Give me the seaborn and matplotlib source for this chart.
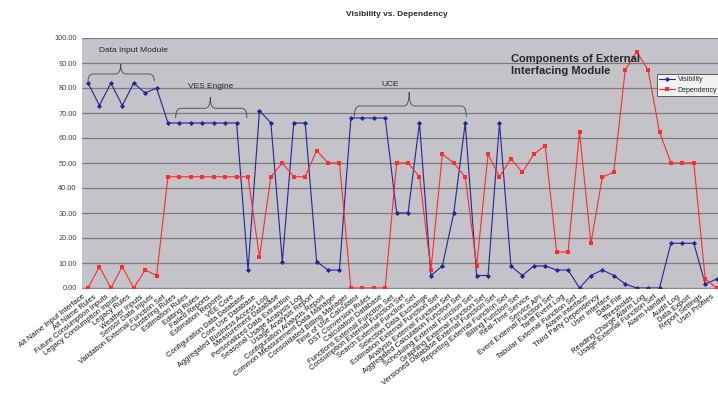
import numpy as np
import pandas as pd
import matplotlib
matplotlib.use("Agg")
import matplotlib.pyplot as plt
from matplotlib.path import Path
from matplotlib.patches import PathPatch
import seaborn as sns

sns.set_style("white")
plt.rcParams['font.family'] = ['Liberation Sans', 'DejaVu Sans']

# --- DATA ---
components = [
    "Alt Name Input Interface", "Alt Name Rules", "Future Consumption Inputs",
    "Legacy Consumption Inputs", "Legacy Rules", "Weather Inputs", "Sensor Data Inputs",
    "Validation External Function Set", "Clustering Rules", "Estimation Rules",
    "Editing Rules", "Failed Reports", "Estimation Reports", "VEE Core",
    "Configuration Data Database", "Core Use Database", "Aggregated Business Access Log",
    "Measurement Database", "Personalized Data Extraction", "Seasonal Usage Analysis Log",
    "Usage Analysis Report", "Configuration Analysis Report",
    "Common Measurement Data Manager", "Consolidated Billing Manager",
    "Time of Use Calculator", "DST Conversion Rules", "Calculation Database",
    "Functions External Function Set", "Consumption External Function Set",
    "Search External Function Set", "Selection Data Exchange",
    "Estimation External Function Set", "Analysis External Function Set",
    "Aggregated Calculation Function Set", "Scheduling External Function Set",
    "Graphing External Function Set", "Versioned Database External Function Set",
    "Reporting External Function Set", "Billing Function Set", "Real-Time Service",
    "Service API", "Event External Function Set", "Tariff Event Log",
    "Tabular External Function Set", "Alarm Interface", "Third Party Dependency",
    "User Interface", "Data File", "Thresholds", "Reading Charge Alarm Log",
    "Usage External Function Set", "Alarm Handler", "Audit Log", "Data Export",
    "Report Settings", "User Profiles",
]

visibility = [82, 73, 82, 73, 82, 78, 80,
              66, 66, 66, 66, 66, 66, 66,
              7.2, 71, 66, 10.5, 66, 66, 10.5, 7.2, 7.2, 68,
              68, 68, 68, 30, 30, 66, 5, 8.8, 30, 66, 5, 5, 66, 8.8, 5, 8.8,
              8.8, 7.2, 7.2, 0, 5, 7.2, 5, 1.6, 0, 0, 0, 17.9, 17.9, 17.9, 1.6, 3.6]

dependency = [0, 8.5, 0, 8.5, 0, 7.2, 5,
              44.5, 44.5, 44.5, 44.5, 44.5, 44.5, 44.5,
              44.5, 12.3, 44.5, 50, 44.5, 44.5, 55, 50, 50, 0,
              0, 0, 0, 50, 50, 44.5, 7.2, 53.5, 50, 44.5, 8.8, 53.5, 44.5, 51.7,
              46.3, 53.5, 56.9, 14.4, 14.4, 62.4, 17.9, 44.4, 46.3, 87.2, 94.5,
              87.2, 62.4, 50, 50, 50, 3.6, 0]

series_names = ["Visibility", "Dependency"]
series_colors = {"Visibility": "#24249a", "Dependency": "#ff2a2a"}

n = len(components)
df = pd.DataFrame({
    "idx": list(range(n)) * 2,
    "value": visibility + dependency,
    "series": ["Visibility"] * n + ["Dependency"] * n,
})

# --- PLOTTING ---
fig = plt.figure(figsize=(7.18, 3.99), dpi=100)
ax = fig.add_axes([82.3 / 718, 1 - 288 / 399, n * 11.43 / 718, 250 / 399])
ax.set_facecolor("#c4c3c8")

sns.lineplot(data=df, x="idx", y="value", hue="series", style="series",
             palette=series_colors, markers={"Visibility": "D", "Dependency": "s"},
             dashes=False, markersize=2.6, markeredgewidth=0, linewidth=0.8,
             legend=False, ax=ax, zorder=3)

ax.set_xlim(-0.5, n - 0.5)
ax.set_ylim(0, 100)
ax.set_yticks(np.arange(0, 101, 10))
ax.set_yticklabels([f"{v:.2f}" for v in range(0, 101, 10)], fontsize=5.3, color="#444444")
ax.yaxis.grid(True, color="#7a7a7a", linewidth=0.9)
ax.set_axisbelow(True)
ax.set_xlabel("")
ax.set_ylabel("")

# category boundaries get the tick marks, names are placed under each point
ax.set_xticks(np.arange(-0.5, n, 1))
ax.set_xticklabels([])
ax.tick_params(axis="x", length=2.5, width=0.6, color="#333333", direction="out")
ax.tick_params(axis="y", length=0, pad=4)
for i, name in enumerate(components):
    ax.annotate(name, xy=(i, 0), xycoords=("data", "axes fraction"),
                xytext=(-4, -4), textcoords="offset points",
                rotation=38, ha="right", va="top", rotation_mode="anchor",
                fontsize=5.4, color="#111111", annotation_clip=False)

for side in ["top", "right", "left"]:
    ax.spines[side].set_visible(False)
ax.spines["bottom"].set_color("#888888")
ax.spines["bottom"].set_linewidth(0.8)

fig.text(397 / 718, 1 - 14 / 399, "Visibility vs. Dependency", ha="center", va="center",
         fontsize=6, fontweight="bold")


def brace(x0, x1, xm, y_end, y_body, y_tip, d=0.45):
    verts = [(x0, y_end), (x0, y_body), (x0 + d, y_body),
             (xm - d, y_body), (xm, y_body), (xm, y_tip),
             (xm, y_body), (xm + d, y_body),
             (x1 - d, y_body), (x1, y_body), (x1, y_end)]
    codes = [Path.MOVETO, Path.CURVE3, Path.CURVE3,
             Path.LINETO, Path.CURVE3, Path.CURVE3,
             Path.CURVE3, Path.CURVE3,
             Path.LINETO, Path.CURVE3, Path.CURVE3]
    ax.add_patch(PathPatch(Path(verts, codes), fill=False, edgecolor="#444444",
                           linewidth=0.6, zorder=4))


brace(0, 5.8, 2.86, 82.7, 85.6, 89.6)
brace(7.67, 13.9, 10.7, 68, 71.9, 76.3)
brace(23.3, 33.1, 28.1, 68.5, 72.8, 78.3)

ax.text(0.96, 95.2, "Data Input Module", fontsize=6, va="center", ha="left", zorder=5)
ax.text(8.75, 80.8, "VES Engine", fontsize=6, va="center", ha="left", zorder=5)
ax.text(25.7, 81.2, "UCE", fontsize=6, va="center", ha="left", zorder=5)
ax.text(37.0, 89.2, "Components of External\nInterfacing Module", fontsize=8,
        fontweight="bold", va="center", ha="left", linespacing=1.25, zorder=5)

handles = ax.get_lines()[:2]
leg = ax.legend(handles, series_names, loc="upper left",
                bbox_to_anchor=(657 / 718, 1 - 74 / 399), bbox_transform=fig.transFigure,
                fontsize=5, frameon=True, fancybox=False, borderpad=0.35,
                handlelength=2.2, handletextpad=0.4, borderaxespad=0,
                labelspacing=0.45)
leg.get_frame().set_edgecolor("#222222")
leg.get_frame().set_linewidth(0.6)

fig.savefig("out.png", dpi=100)
